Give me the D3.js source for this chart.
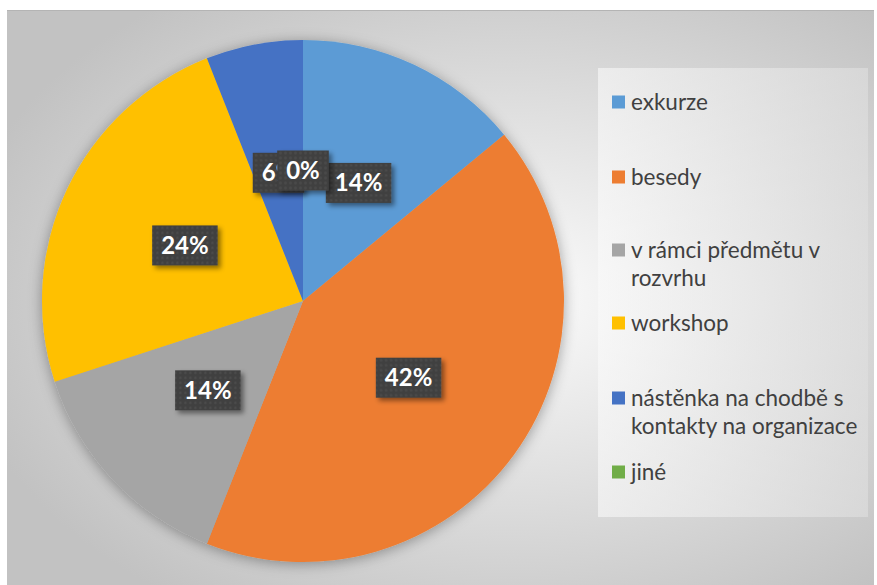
<!DOCTYPE html>
<html><head><meta charset="utf-8">
<script src="https://cdn.jsdelivr.net/npm/d3@7/dist/d3.min.js"></script>
<style>html,body{margin:0;padding:0;background:#fff;}svg{display:block;}</style>
</head><body>
<svg id="chart" width="877" height="585"></svg>
<script>
const categories = ["exkurze","besedy","v rámci předmětu v rozvrhu","workshop","nástěnka na chodbě s kontakty na organizace","jiné"];
const values = [7,21,7,12,3,0];
const legendLines = [["exkurze"],["besedy"],["v rámci předmětu v","rozvrhu"],["workshop"],["nástěnka na chodbě s","kontakty na organizace"],["jiné"]];
const colors = ["#5B9BD5","#ED7D31","#A5A5A5","#FFC000","#4472C4","#70AD47"];

const svg = d3.select("#chart");
const defs = svg.append("defs");

const bg = defs.append("radialGradient").attr("id","bg").attr("cx","58%").attr("cy","50%").attr("r","65%");
bg.append("stop").attr("offset","0%").attr("stop-color","#fcfcfc");
bg.append("stop").attr("offset","100%").attr("stop-color","#c2c2c2");

const lg = defs.append("linearGradient").attr("id","lg").attr("x1","0").attr("x2","1").attr("y1","0").attr("y2","0");
lg.append("stop").attr("offset","0%").attr("stop-color","#fafafa");
lg.append("stop").attr("offset","100%").attr("stop-color","#e0e0e0");

const pat = defs.append("pattern").attr("id","dots").attr("patternUnits","userSpaceOnUse").attr("width",5).attr("height",5);
pat.append("rect").attr("width",5).attr("height",5).attr("fill","#404040");
pat.append("rect").attr("x",1.5).attr("y",1.5).attr("width",2).attr("height",2).attr("fill","#4e4e4e");

const sh = defs.append("filter").attr("id","pieShadow").attr("x","-20%").attr("y","-20%").attr("width","140%").attr("height","140%");
sh.append("feDropShadow").attr("dx",0).attr("dy",2).attr("stdDeviation",7).attr("flood-color","#000").attr("flood-opacity",0.35);

const ls = defs.append("filter").attr("id","lblShadow").attr("x","-30%").attr("y","-30%").attr("width","160%").attr("height","160%");
ls.append("feDropShadow").attr("dx",3).attr("dy",3).attr("stdDeviation",2.5).attr("flood-color","#000").attr("flood-opacity",0.45);

// background
svg.append("rect").attr("x",7).attr("y",10).attr("width",867).attr("height",575).attr("fill","url(#bg)");
svg.append("line").attr("x1",7).attr("x2",874).attr("y1",10.5).attr("y2",10.5).attr("stroke","#b4b4b4").attr("stroke-width",1);

// legend box
svg.append("rect").attr("x",598).attr("y",68).attr("width",270).attr("height",449).attr("fill","url(#lg)").attr("opacity",0.6);

const cx = 303, cy = 301, R = 261;
const total = d3.sum(values);
const pie = d3.pie().sort(null).value(d => d)(values);
const arc = d3.arc().innerRadius(0).outerRadius(R);

const g = svg.append("g").attr("transform",`translate(${cx},${cy})`);
g.append("g").attr("filter","url(#pieShadow)")
  .selectAll("path").data(pie).join("path")
  .attr("d",arc).attr("fill",(d,i)=>colors[i]);

// labels
const lblG = g.append("g");
pie.forEach((d,i)=>{
  const [x,y] = arc.centroid(d);
  const txt = Math.round(d.data/total*100) + "%";
  const lg1 = lblG.append("g").attr("transform",`translate(${x},${y})`);
  const rect = lg1.append("rect").attr("fill","url(#dots)").attr("filter","url(#lblShadow)");
  const t = lg1.append("text").text(txt)
    .attr("font-family","Lato, 'Open Sans', sans-serif").attr("font-weight","bold").attr("font-size",24)
    .attr("fill","#fff").attr("text-anchor","middle").attr("y",8.5);
  const w = t.node().getComputedTextLength() + 18;
  rect.attr("x",-w/2).attr("y",-20).attr("width",w).attr("height",40);
});

// legend
const legendY = [102,177,250,323,398,472];
const lgG = svg.append("g");
legendLines.forEach((lines,i)=>{
  lgG.append("rect").attr("x",612).attr("y",legendY[i]-6.5).attr("width",13).attr("height",13).attr("fill",colors[i]);
  const t = lgG.append("text").attr("x",631).attr("y",legendY[i]+7.5)
    .attr("font-family","Lato, 'Open Sans', sans-serif").attr("font-size",22.5).attr("fill","#404040");
  lines.forEach((l,j)=>{
    t.append("tspan").attr("x",631).attr("dy", j===0?0:28.5).text(l);
  });
});
</script>
</body></html>
